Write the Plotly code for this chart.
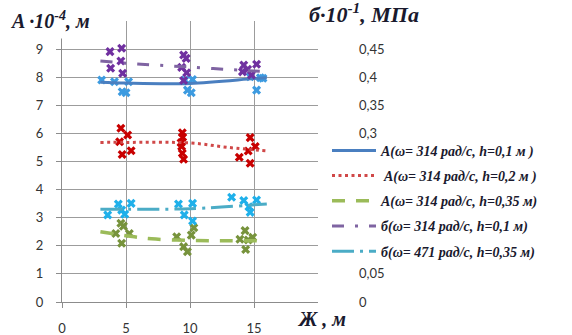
import plotly.graph_objects as go

# ---- data -------------------------------------------------------------
# Trend lines (x = distance Ж, m)
a1_x = [3, 5, 10, 15, 16]
a1_y = [7.82, 7.79, 7.78, 7.95, 7.98]          # A, h=0.1 m (·10^-4 m)
a2_x = [3, 5, 10, 13, 16]
a2_y = [5.68, 5.68, 5.66, 5.50, 5.38]          # A, h=0.2 m
a3_x = [3, 5, 7, 10, 13, 16]
a3_y = [2.50, 2.36, 2.25, 2.19, 2.18, 2.18]    # A, h=0.35 m
s1_x = [3, 5, 10, 15, 16]
s1_y = [0.429, 0.425, 0.418, 0.411, 0.410]     # σ, ω=314, h=0.1 m (·10^-1 MPa)
s2_x = [3, 5, 10, 16]
s2_y = [0.165, 0.165, 0.166, 0.1745]           # σ, ω=471, h=0.35 m

# Measured points
p1_x = [3.1, 4.1, 5.2, 4.7, 5.0, 9.6, 10.2, 9.8, 10.1, 15.2, 14.7, 15.5, 15.7]
p1_y = [7.90, 7.84, 7.84, 7.48, 7.45, 7.90, 7.92, 7.54, 7.45, 7.54, 8.02, 7.98, 7.96]
p2_x = [4.6, 5.13, 4.5, 4.7, 5.4, 9.4, 9.43, 9.3, 9.35, 9.4, 9.5, 14.7, 15.1, 14.55, 13.85, 14.7]
p2_y = [6.18, 5.94, 5.70, 5.25, 5.38, 6.02, 5.86, 5.67, 5.53, 5.29, 5.08, 5.85, 5.53, 5.37, 5.15, 4.94]
p3_x = [4.6, 4.8, 4.2, 5.26, 4.66, 8.96, 10.1, 10.3, 9.5, 9.8, 14.3, 13.9, 14.55, 14.9, 14.35]
p3_y = [2.80, 2.70, 2.44, 2.44, 2.09, 2.32, 2.38, 2.64, 1.97, 1.79, 2.54, 2.23, 2.21, 2.30, 1.87]
p4_x = [3.75, 4.66, 4.6, 3.8, 4.74, 9.5, 9.7, 9.35, 9.74, 9.5, 14.2, 14.5, 15.2, 14.8, 14.1]
p4_y = [0.4455, 0.4515, 0.429, 0.416, 0.407, 0.4395, 0.4335, 0.4175, 0.408, 0.394,
        0.4215, 0.414, 0.423, 0.404, 0.4095]
p5_x = [4.4, 5.4, 4.66, 3.57, 4.9, 9.1, 10.2, 9.55, 10.2, 13.25, 14.2, 15.2, 14.6, 14.7]
p5_y = [0.1745, 0.1755, 0.1635, 0.155, 0.156, 0.1745, 0.1755, 0.155, 0.144,
        0.1865, 0.1805, 0.1815, 0.1695, 0.1595]

x_ticks = [0, 5, 10, 15]
y_ticks = [0, 1, 2, 3, 4, 5, 6, 7, 8, 9, 10]
y_tick_text = ["0", "1", "2", "3", "4", "5", "6", "7", "8", "9", ""]
y2_ticks = [0, 0.05, 0.3, 0.35, 0.4, 0.45]

names = [
    "A(ω= 314 рад/с, h=0,1 м )",
    " A(ω= 314 рад/с, h=0,2 м )",
    "A(ω= 314 рад/с, h=0,35 м)",
    "б(ω= 314 рад/с, h=0,1 м)",
    "б(ω= 471 рад/с, h=0,35 м)",
]

# ---- figure -----------------------------------------------------------
fig = go.Figure()

mk = dict(symbol="x", size=8, line=dict(width=0))
fig.add_trace(go.Scatter(x=p1_x, y=p1_y, mode="markers", showlegend=False,
                         marker=dict(color="#3d9be0", **mk)))
fig.add_trace(go.Scatter(x=p2_x, y=p2_y, mode="markers", showlegend=False,
                         marker=dict(color="#c80000", **mk)))
fig.add_trace(go.Scatter(x=p3_x, y=p3_y, mode="markers", showlegend=False,
                         marker=dict(color="#77933c", **mk)))
fig.add_trace(go.Scatter(x=p4_x, y=p4_y, mode="markers", showlegend=False, yaxis="y2",
                         marker=dict(color="#7030a0", **mk)))
fig.add_trace(go.Scatter(x=p5_x, y=p5_y, mode="markers", showlegend=False, yaxis="y2",
                         marker=dict(color="#1fb0ea", **mk)))

line_specs = [
    (a1_x, a1_y, "y", dict(color="#4a7fc0", width=3)),
    (a2_x, a2_y, "y", dict(color="#d04848", width=3, dash="3px,3.5px")),
    (a3_x, a3_y, "y", dict(color="#9bbb59", width=3.5, dash="13px,11px")),
    (s1_x, s1_y, "y2", dict(color="#7f64a2", width=3, dash="12px,11px,3px,11px")),
    (s2_x, s2_y, "y2", dict(color="#4bacc6", width=3, dash="22px,6px,3px,6px")),
]
for i, (lx, ly, ax, ln) in enumerate(line_specs):
    fig.add_trace(go.Scatter(x=lx, y=ly, mode="lines", name=names[i], yaxis=ax,
                             legendgroup=f"g{i}", line=dict(shape="spline", **ln)))

tick_font = dict(family="Lato, 'Open Sans', sans-serif", size=13, color="#333333")
title_font = dict(family="Liberation Serif, serif", size=20, color="#1a1a2e",
                  weight="bold", style="italic")

fig.update_layout(
    width=572, height=335,
    margin=dict(l=62, r=10, t=21, b=33),
    paper_bgcolor="white", plot_bgcolor="white",
    separators=", ",
    xaxis=dict(domain=[0, 0.512], range=[0, 20], tickvals=x_ticks,
               showgrid=True, gridcolor="#9c9c9c", gridwidth=1,
               showline=True, linecolor="#8c8c8c", linewidth=1,
               ticks="outside", ticklen=5, tickcolor="#8c8c8c",
               ticklabelstandoff=9, tickfont=tick_font, zeroline=False,
               automargin=False),
    yaxis=dict(range=[0, 10], tickvals=y_ticks, ticktext=y_tick_text,
               showgrid=True, gridcolor="#9c9c9c", gridwidth=1,
               showline=True, linecolor="#8c8c8c", linewidth=1,
               ticks="outside", ticklen=5, tickcolor="#8c8c8c",
               ticklabelstandoff=10, tickfont=tick_font, zeroline=False,
               automargin=False),
    yaxis2=dict(range=[0, 0.5], tickvals=y2_ticks, overlaying="y", side="right",
                anchor="free", position=0.592, showgrid=False, showline=False,
                ticks="", tickfont=tick_font, zeroline=False, automargin=False),
    legend=dict(x=0.53, y=0.595, xanchor="left", yanchor="top",
                bgcolor="rgba(255,255,255,0)", borderwidth=0, itemwidth=44,
                font=dict(family="Liberation Serif, serif", size=14, color="#1a1a2e",
                          weight="bold", style="italic"),
                tracegroupgap=4),
)

fig.add_annotation(xref="paper", yref="paper", x=-0.118, y=1.004, xanchor="left",
                   yanchor="middle", showarrow=False, bgcolor="white",
                   text="A ·10<sup>-4</sup>, м", font=title_font, borderpad=6)
fig.add_annotation(xref="paper", yref="paper", x=0.718, y=1.03, xanchor="right",
                   yanchor="middle", showarrow=False,
                   text="б·10<sup>-1</sup>, МПа", font=dict(title_font, size=22))
fig.add_annotation(xref="paper", yref="paper", x=0.466, y=-0.06, xanchor="left",
                   yanchor="middle", showarrow=False,
                   text="Ж , м", font=title_font)

fig.write_html("out.html")
